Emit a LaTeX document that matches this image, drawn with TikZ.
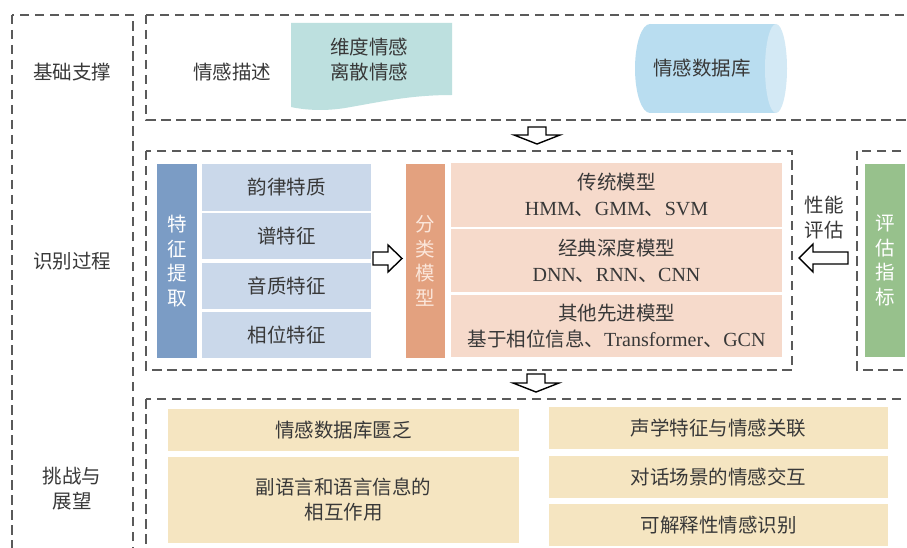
\documentclass[tikz,border=0pt]{standalone}
\usepackage{fontspec}
\setmainfont{Liberation Serif}
\newfontfamily\cjk{Noto Sans CJK SC}
\definecolor{dashgray}{HTML}{5A5A5A}
\definecolor{txt}{HTML}{383838}
\definecolor{docteal}{HTML}{BDE0DF}
\definecolor{cylbody}{HTML}{B9DDF0}
\definecolor{cylcap}{HTML}{D3E9F5}
\definecolor{featcol}{HTML}{7B9CC5}
\definecolor{featbox}{HTML}{CAD8EA}
\definecolor{clscol}{HTML}{E3A17F}
\definecolor{clsbox}{HTML}{F6DACB}
\definecolor{evalcol}{HTML}{97C18C}
\definecolor{chalbox}{HTML}{F5E5C1}
\definecolor{clstxt}{HTML}{FBE6DA}
\tikzset{
  dbox/.style={draw=dashgray, line width=2.4pt, dash pattern=on 9.5pt off 5.5pt},
  lbl/.style={inner sep=0pt, align=center, text=txt, font=\cjk\fontsize{19.5}{25}\selectfont},
  fbox/.style={lbl, fill=featbox},
  mbox/.style={lbl, fill=clsbox, font=\fontsize{20}{26}\selectfont},
  cbox/.style={lbl, fill=chalbox},
  vcol/.style={lbl, text=white, font=\cjk\fontsize{19.5}{24.5}\selectfont},
  harrow/.style={draw=black, line width=1.4pt, fill=white, line join=miter}
}
\begin{document}
\begin{tikzpicture}[x=1pt,y=-1pt]
\clip (0,0) rectangle (907,548);
\fill[white] (0,0) rectangle (907,548);

% dashed frames
\draw[dbox] (12,15) rectangle (133,570);
\draw[dbox] (146,15) rectangle (930,120);
\draw[dbox] (146,151) rectangle (792,370);
\draw[dbox] (857,151) rectangle (930,370);
\draw[dbox] (146,399) rectangle (930,570);

% left labels
\node[lbl] (l1) at (72,72) {基础支撑};
\node[lbl] (l2) at (72,261) {识别过程};
\node[lbl] (l3) at (72,488.5) {挑战与\\展望};

% top row
\node[lbl] (desc) at (232,72) {情感描述};
\fill[docteal] (291,23) -- (452,23) -- (452,95)
  .. controls (410,95) and (380,102) .. (345,108)
  .. controls (320,112) and (300,109) .. (291,107) -- cycle;
\node[lbl] (doc) at (369,59.5) {维度情感\\离散情感};
\fill[cylbody] (650,24) rectangle (776,113);
\fill[cylbody] (650,68.5) ellipse [x radius=15, y radius=44.5];
\fill[cylcap] (776,68.5) ellipse [x radius=11, y radius=44.5];
\node[lbl] (db) at (702,68) {情感数据库};

% feature extraction
\node[vcol, fill=featcol, minimum width=40pt, minimum height=194pt] (fcol) at (177,261) {特\\征\\提\\取};
\node[fbox, minimum width=169pt, minimum height=47pt] (f1) at (286.5,187.5) {韵律特质};
\node[fbox, minimum width=169pt, minimum height=46pt] (f2) at (286.5,236) {谱特征};
\node[fbox, minimum width=169pt, minimum height=46pt] (f3) at (286.5,286) {音质特征};
\node[fbox, minimum width=169pt, minimum height=46pt] (f4) at (286.5,335) {相位特征};

% classification models
\node[vcol, text=clstxt, fill=clscol, minimum width=39pt, minimum height=194pt] (ccol) at (425.5,261) {分\\类\\模\\型};
\node[mbox, minimum width=331pt, minimum height=64pt] (m1) at (616.5,195) {{\cjk\fontsize{19.5}{26}\selectfont 传统模型}\\HMM{\cjk 、}GMM{\cjk 、}SVM};
\node[mbox, minimum width=331pt, minimum height=63pt] (m2) at (616.5,260.5) {{\cjk\fontsize{19.5}{26}\selectfont 经典深度模型}\\DNN{\cjk 、}RNN{\cjk 、}CNN};
\node[mbox, minimum width=331pt, minimum height=62pt] (m3) at (616.5,326) {{\cjk\fontsize{19.5}{26}\selectfont 其他先进模型}\\{\cjk\fontsize{19.5}{26}\selectfont 基于相位信息、}Transformer{\cjk 、}GCN};

% evaluation
\node[lbl] (perf) at (824,217.5) {性能\\评估};
\node[vcol, fill=evalcol, minimum width=40pt, minimum height=193pt] (ecol) at (885,260.5) {评\\估\\指\\标};

% challenges
\node[cbox, minimum width=351pt, minimum height=42pt] (c1) at (343.5,430) {情感数据库匮乏};
\node[cbox, minimum width=351pt, minimum height=86pt] (c2) at (343.5,500) {副语言和语言信息的\\相互作用};
\node[cbox, minimum width=339pt, minimum height=42pt] (c3) at (718.5,428) {声学特征与情感关联};
\node[cbox, minimum width=339pt, minimum height=42pt] (c4) at (718.5,477) {对话场景的情感交互};
\node[cbox, minimum width=339pt, minimum height=42pt] (c5) at (718.5,525) {可解释性情感识别};

% hollow arrows
\draw[harrow] (528,127) -- (546,127) -- (546,135) -- (560,135) -- (537,144) -- (514,135) -- (528,135) -- cycle;
\draw[harrow] (527,374) -- (545,374) -- (545,383) -- (559,383) -- (536,392) -- (513,383) -- (527,383) -- cycle;
\draw[harrow] (373,252) -- (388,252) -- (388,245) -- (402,258.5) -- (388,272) -- (388,265) -- (373,265) -- cycle;
\draw[harrow] (848,252) -- (813,252) -- (813,244) -- (799,258) -- (813,272) -- (813,264) -- (848,264) -- cycle;
\end{tikzpicture}
\end{document}
